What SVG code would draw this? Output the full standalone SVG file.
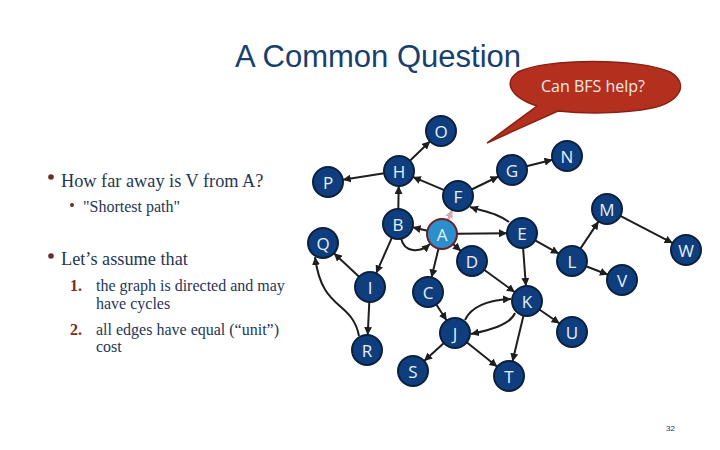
<svg xmlns="http://www.w3.org/2000/svg" width="720" height="450" viewBox="0 0 720 450">
<defs>
<style>
.title{font-family:"Liberation Sans",Arial,sans-serif;font-size:31px;fill:#17406D}
.b1{font-family:"Liberation Serif","DejaVu Serif",serif;font-size:18.3px;fill:#1F3656}
.b2{font-family:"Liberation Serif","DejaVu Serif",serif;font-size:16px;fill:#1F3656}
.num{font-family:"Liberation Serif","DejaVu Serif",serif;font-size:16px;fill:#7A2A22;font-weight:bold}
.dot{fill:#6E2A26}
.node circle{fill:#0E3E7E;stroke:#0C1F3C;stroke-width:2}
.node text{font-family:"Open Sans","Liberation Sans",sans-serif;font-size:17px;fill:#E6F0FA;text-anchor:middle;dominant-baseline:central}
#nA circle{fill:#2A8FCB;stroke:#6E1E22}
.e{fill:none;stroke:#1E1E1E;stroke-width:2;marker-end:url(#ah)}
.hl{fill:none;stroke:#D9A9B4;stroke-width:2.5;marker-end:url(#ahp)}
.bubtext{font-family:"Open Sans","Liberation Sans",sans-serif;font-size:16px;fill:#F6E7E2;text-anchor:middle}
</style>
<marker id="ah" markerWidth="9" markerHeight="8" refX="8" refY="4" orient="auto" markerUnits="userSpaceOnUse"><path d="M0,0 L8,4 L0,8 Z" fill="#1E1E1E"/></marker>
<marker id="ahp" markerWidth="9" markerHeight="8" refX="8" refY="4" orient="auto" markerUnits="userSpaceOnUse"><path d="M0,0 L8,4 L0,8 Z" fill="#D9A9B4"/></marker>
</defs>
<rect width="720" height="450" fill="#FFFFFF"/>
<text class="title" x="235" y="67">A Common Question</text>
<g id="bubble">
<path d="M537,106 C510,97 503,82 518,72 C545,58 640,58 670,72 C690,84 680,102 652,108 C622,114 585,114 558,111 L487,143 Z" fill="#B3301F" stroke="#8A2014" stroke-width="1.5"/>
<text class="bubtext" x="593" y="92">Can BFS help?</text>
</g>
<g id="text">
<circle class="dot" cx="51" cy="177" r="2.8"/>
<text class="b1" x="61" y="187">How far away is V from A?</text>
<circle class="dot" cx="72" cy="205" r="2"/>
<text class="b2" x="83" y="212">"Shortest path"</text>
<circle class="dot" cx="51" cy="256" r="2.8"/>
<text class="b1" x="61" y="265">Let’s assume that</text>
<text class="num" x="70" y="291">1.</text>
<text class="b2" x="96" y="291">the graph is directed and may</text>
<text class="b2" x="96" y="309">have cycles</text>
<text class="num" x="70" y="335">2.</text>
<text class="b2" x="96" y="335">all edges have equal (“unit”)</text>
<text class="b2" x="96" y="352">cost</text>
<text x="666" y="431" font-family="'Liberation Sans',sans-serif" font-size="8" fill="#1F3656">32</text>
</g>
<g id="edges">
<path class="e" d="M409.9,160.7 L430.1,141.3"/>
<path class="e" d="M384.2,173.3 L342.8,179.7"/>
<path class="e" d="M444.2,190.1 L412.8,176.9"/>
<path class="e" d="M398.3,209 L398.7,186"/>
<path class="hl" d="M447.8,220.2 L452.2,209.8"/>
<path class="e" d="M427.4,230.7 L412.6,227.3"/>
<path class="e" d="M401,238 C404,253 420,253 430,244"/>
<path class="e" d="M471.5,189.5 L498.5,176.5"/>
<path class="e" d="M526.5,166.3 L552.5,159.7"/>
<path class="e" d="M509,222 C495,212 485,212 470,207"/>
<path class="e" d="M457,233.8 L507,233.2"/>
<path class="e" d="M453.1,244 L460.9,251"/>
<path class="e" d="M438.5,248.6 L431.5,277.4"/>
<path class="e" d="M391.9,237.7 L376.1,273.3"/>
<path class="e" d="M359.1,276.8 L333.9,253.2"/>
<path class="e" d="M369.3,302 L367.7,335"/>
<path class="e" d="M359,336 C352,300 322,312 315,257"/>
<path class="e" d="M535.1,240.3 L558.9,253.7"/>
<path class="e" d="M523.1,248 L525.9,286"/>
<path class="e" d="M580.4,248.6 L598.6,221.4"/>
<path class="e" d="M620.3,215.9 L672.7,243.1"/>
<path class="e" d="M586,266.3 L608,274.7"/>
<path class="e" d="M484.1,269.8 L514.9,292.2"/>
<path class="e" d="M436.3,304.5 L446.7,320.5"/>
<path class="e" d="M443.9,343.1 L424.1,360.9"/>
<path class="e" d="M465,320 C472,305 490,300 511,299"/>
<path class="e" d="M515,313 C510,325 490,330 471,334"/>
<path class="e" d="M466.7,342.3 L497.3,366.7"/>
<path class="e" d="M523.5,315.6 L512.5,361.4"/>
<path class="e" d="M539.4,309.5 L559.6,323.5"/>
</g>
<g id="nO" class="node"><circle cx="441" cy="131" r="15"/><text x="441" y="131">O</text></g>
<g id="nH" class="node"><circle cx="399" cy="171" r="15"/><text x="399" y="171">H</text></g>
<g id="nP" class="node"><circle cx="328" cy="182" r="15"/><text x="328" y="182">P</text></g>
<g id="nF" class="node"><circle cx="458" cy="196" r="15"/><text x="458" y="196">F</text></g>
<g id="nB" class="node"><circle cx="398" cy="224" r="15"/><text x="398" y="224">B</text></g>
<g id="nA" class="node"><circle cx="442" cy="234" r="15"/><text x="442" y="234">A</text></g>
<g id="nQ" class="node"><circle cx="323" cy="243" r="15"/><text x="323" y="243">Q</text></g>
<g id="nG" class="node"><circle cx="512" cy="170" r="15"/><text x="512" y="170">G</text></g>
<g id="nN" class="node"><circle cx="567" cy="156" r="15"/><text x="567" y="156">N</text></g>
<g id="nM" class="node"><circle cx="607" cy="209" r="15"/><text x="607" y="209">M</text></g>
<g id="nE" class="node"><circle cx="522" cy="233" r="15"/><text x="522" y="233">E</text></g>
<g id="nL" class="node"><circle cx="572" cy="261" r="15"/><text x="572" y="261">L</text></g>
<g id="nW" class="node"><circle cx="686" cy="250" r="15"/><text x="686" y="250">W</text></g>
<g id="nV" class="node"><circle cx="622" cy="280" r="15"/><text x="622" y="280">V</text></g>
<g id="nD" class="node"><circle cx="472" cy="261" r="15"/><text x="472" y="261">D</text></g>
<g id="nK" class="node"><circle cx="527" cy="301" r="15"/><text x="527" y="301">K</text></g>
<g id="nU" class="node"><circle cx="572" cy="332" r="15"/><text x="572" y="332">U</text></g>
<g id="nT" class="node"><circle cx="509" cy="376" r="15"/><text x="509" y="376">T</text></g>
<g id="nI" class="node"><circle cx="370" cy="287" r="15"/><text x="370" y="287">I</text></g>
<g id="nC" class="node"><circle cx="428" cy="292" r="15"/><text x="428" y="292">C</text></g>
<g id="nJ" class="node"><circle cx="455" cy="333" r="15"/><text x="455" y="333">J</text></g>
<g id="nR" class="node"><circle cx="367" cy="350" r="15"/><text x="367" y="350">R</text></g>
<g id="nS" class="node"><circle cx="413" cy="371" r="15"/><text x="413" y="371">S</text></g>
</svg>
